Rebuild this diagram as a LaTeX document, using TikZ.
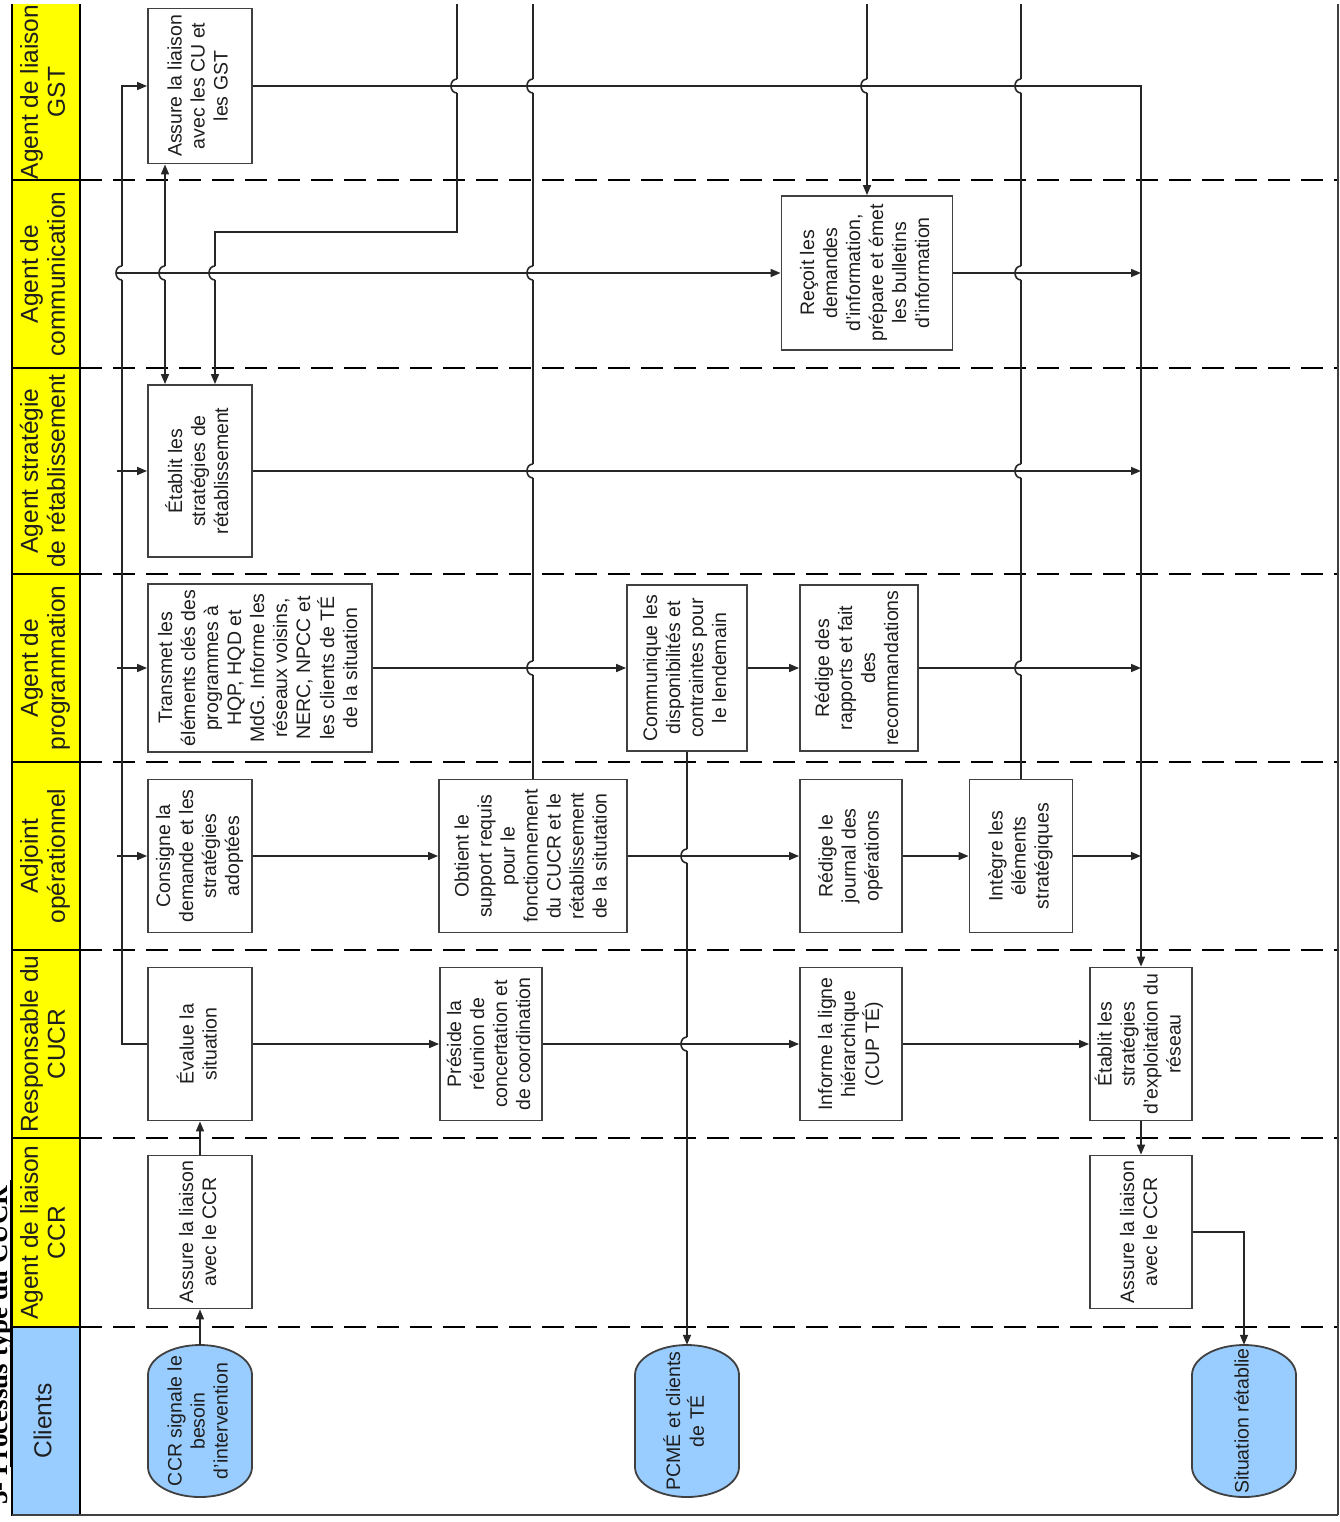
\documentclass[tikz,border=0pt]{standalone}
\usepackage{fontspec}
\usepackage{graphicx}
\setmainfont{Liberation Sans}
\newfontfamily\ttlfont{Liberation Serif}
\usetikzlibrary{arrows.meta}
\definecolor{laneyellow}{HTML}{FFFF00}
\definecolor{laneblue}{HTML}{99CCFF}
\definecolor{ink}{HTML}{262626}
\definecolor{boxline}{HTML}{404040}
\definecolor{textc}{HTML}{1E1E1E}
\newcommand\bxfont{\fontsize{19.5}{23}\selectfont}
\newcommand\hdfont{\fontsize{24.5}{27}\selectfont}
\newcommand\rtext[1]{\rotatebox{90}{\begin{tabular}{@{}c@{}}#1\end{tabular}}}
\newcommand\termshape[2]{\draw[termline] (#1-52,#2-46) -- (#1-52,#2+46) arc[start angle=180,end angle=0,x radius=52,y radius=30] -- (#1+52,#2-46) arc[start angle=0,end angle=-180,x radius=52,y radius=30] -- cycle;}
\begin{document}
\begin{tikzpicture}[x=1pt,y=-1pt,
  conn/.style={draw=ink, line width=1.6pt},
  arr/.style={conn, -{Triangle[length=10pt,width=8pt]}},
  darr/.style={conn, {Triangle[length=10pt,width=8pt]}-{Triangle[length=10pt,width=8pt]}},
  box/.style={draw=boxline, line width=1.8pt, fill=white, inner sep=0pt, minimum width=104pt, minimum height=153pt, font=\bxfont, text=textc},
  term/.style={inner sep=0pt, minimum width=104pt, minimum height=152pt, font=\bxfont, text=textc},
  termline/.style={draw=boxline, line width=1.8pt, fill=laneblue},
  hdr/.style={draw=black, line width=1.5pt, fill=laneyellow, minimum width=68pt, inner sep=0pt, font=\hdfont, text=textc},
  lanesep/.style={draw=black, line width=1.4pt, dash pattern=on 22pt off 11pt},
  hop/.pic={\fill[white] (-2.2,-7) rectangle (2.2,7); \draw[conn] (0,-7) .. controls (-8,-7) and (-8,7) .. (0,7);}
]
\useasboundingbox (0,0) rectangle (1340,1522);
\clip (0,5) rectangle (1340,1522);

% ---------- lane headers ----------
\node[hdr, minimum height=190pt] (hGST) at (46,85) {};
\node[font=\hdfont, text=textc] (hGSTt) at (46,92) {\rtext{Agent de liaison\\GST}};
\node[hdr, minimum height=188pt] (hComm) at (46,274) {\rtext{Agent de\\communication}};
\node[hdr, minimum height=206pt] (hStrat) at (46,471) {\rtext{Agent stratégie\\de rétablissement}};
\node[hdr, minimum height=188pt] (hProg) at (46,668) {\rtext{Agent de\\programmation}};
\node[hdr, minimum height=188pt] (hAdj) at (46,856) {\rtext{Adjoint\\opérationnel}};
\node[hdr, minimum height=188pt] (hResp) at (46,1044) {\rtext{Responsable du\\CUCR}};
\node[hdr, minimum height=189pt] (hCCR) at (46,1232.5) {\rtext{Agent de liaison\\CCR}};
\node[hdr, fill=laneblue, minimum height=188pt] (hCli) at (46,1421) {\rtext{Clients}};

% ---------- lane separators and frame ----------
\foreach \yy in {180,368,574,762,950,1138,1327}
  \draw[lanesep] (80,\yy) -- (1338,\yy);
\draw[draw=black!75, line width=1.5pt] (12,1515) -- (1338,1515);
\draw[draw=black!75, line width=1.5pt] (1338,0) -- (1338,1515);

% ---------- title (cut by the page edge) ----------
\node[rotate=90, anchor=base west, inner sep=0pt, font=\ttlfont\bfseries\fontsize{27}{30}\selectfont] (title) at (7,1505) {3- Processus type du CUCR};
\draw[line width=1.3pt] (10.5,1467) -- (10.5,1180);

% ---------- terminators ----------
\termshape{200}{1421}
\termshape{687}{1421}
\termshape{1244}{1421}
\node[term] (signale) at (200,1421) {\rtext{CCR signale le\\besoin\\d'intervention}};
\node[term] (pcme) at (687,1421) {\rtext{PCMÉ et clients\\de TÉ}};
\node[term] (situation) at (1244,1421) {\rtext{Situation rétablie}};

% ---------- process boxes ----------
\node[box, minimum height=155pt] (gst) at (200,86) {\rtext{Assure la liaison\\avec les CU et\\les GST}};
\node[box, minimum width=171pt, minimum height=154pt] (recoit) at (867,273) {\rtext{Reçoit les\\demandes\\d'information,\\prépare et émet\\les bulletins\\d'information}};
\node[box, minimum height=172pt] (strat) at (200,471) {\rtext{Établit les\\stratégies de\\rétablissement}};
\node[box, minimum width=224pt, minimum height=168pt] (transmet) at (260,668) {\rtext{Transmet les\\éléments clés des\\programmes à\\HQP, HQD et\\MdG. Informe les\\réseaux voisins,\\NERC, NPCC et\\les clients de TÉ\\de la situation}};
\node[box, minimum width=120pt, minimum height=166pt] (communique) at (687,668) {\rtext{Communique les\\disponibilités et\\contraintes pour\\le lendemain}};
\node[box, minimum width=118pt, minimum height=166pt] (rapports) at (859,668) {\rtext{Rédige des\\rapports et fait\\des\\recommandations}};
\node[box] (consigne) at (200,856) {\rtext{Consigne la\\demande et les\\stratégies\\adoptées}};
\node[box, minimum width=188pt] (obtient) at (533,856) {\rtext{Obtient le\\support requis\\pour le\\fonctionnement\\du CUCR et le\\rétablissement\\de la situtation}};
\node[box, minimum width=102pt] (journal) at (851,856) {\rtext{Rédige le\\journal des\\opérations}};
\node[box, minimum width=103pt] (integre) at (1021,856) {\rtext{Intègre les\\éléments\\stratégiques}};
\node[box] (evalue) at (200,1044) {\rtext{Évalue la\\situation}};
\node[box, minimum width=102pt] (preside) at (491,1044) {\rtext{Préside la\\réunion de\\concertation et\\de coordination}};
\node[box, minimum width=102pt] (informe) at (851,1044) {\rtext{Informe la ligne\\hiérarchique\\(CUP TÉ)}};
\node[box, minimum width=102pt] (etablit) at (1141,1044) {\rtext{Établit les\\stratégies\\d'exploitation du\\réseau}};
\node[box] (ccrA) at (200,1232) {\rtext{Assure la liaison\\avec le CCR}};
\node[box, minimum width=102pt] (ccrB) at (1141,1232) {\rtext{Assure la liaison\\avec le CCR}};

% ---------- helper coordinates ----------
\coordinate (cBus) at (122,0);
\coordinate (cBus0) at (117,0);
\coordinate (cA) at (165,0);
\coordinate (cB) at (215,0);
\coordinate (kB) at (0,232);
\coordinate (tB) at (457,0);
\coordinate (tC) at (533,0);
\coordinate (tD) at (867,0);
\coordinate (tE) at (1021,0);

% ---------- vertical connectors ----------
\draw[arr] (evalue.west) -- (cBus |- evalue.west) -- (cBus |- gst.west) -- (gst.west);
\draw[arr] (tB) -- (tB |- kB) -- (cB |- kB) -- (cB |- strat.north);
\draw[darr] (cA |- gst.south) -- (cA |- strat.north);
\draw[conn] (tC) -- (obtient.north);
\draw[arr] (tD) -- (recoit.north);
\draw[conn] (tE) -- (integre.north);
\draw[arr] (communique.south) -- (pcme.north);

% ---------- line hops ----------
\foreach \p in {cBus |- recoit.west, cA |- recoit.west, cB |- recoit.west,
                tB |- gst.east, tC |- gst.east, tD |- gst.east, tE |- gst.east,
                tC |- recoit.east, tE |- recoit.east,
                tC |- strat.east, tE |- strat.east,
                tC |- transmet.east, tE |- rapports.east,
                communique.south |- consigne.east, communique.south |- evalue.east}
  \pic at (\p) {hop};

% ---------- horizontal connectors ----------
\draw[arr] (cBus0 |- recoit.west) -- (recoit.west);
\draw[arr] (cBus0 |- strat.west) -- (strat.west);
\draw[arr] (cBus0 |- transmet.west) -- (transmet.west);
\draw[arr] (cBus0 |- consigne.west) -- (consigne.west);
\draw[arr] (gst.east) -- (gst.east -| etablit.north) -- (etablit.north);
\draw[arr] (recoit.east) -- (recoit.east -| etablit.north);
\draw[arr] (strat.east) -- (strat.east -| etablit.north);
\draw[arr] (transmet.east) -- (communique.west);
\draw[arr] (communique.east) -- (rapports.west);
\draw[arr] (rapports.east) -- (rapports.east -| etablit.north);
\draw[arr] (consigne.east) -- (obtient.west);
\draw[arr] (obtient.east) -- (journal.west);
\draw[arr] (journal.east) -- (integre.west);
\draw[arr] (integre.east) -- (integre.east -| etablit.north);
\draw[arr] (evalue.east) -- (preside.west);
\draw[arr] (preside.east) -- (informe.west);
\draw[arr] (informe.east) -- (etablit.west);
\draw[arr] (etablit.south) -- (ccrB.north);
\draw[arr] (ccrB.east) -| (situation.north);
\draw[arr] (signale.north) -- (ccrA.south);
\draw[arr] (ccrA.north) -- (evalue.south);
\end{tikzpicture}
\end{document}
